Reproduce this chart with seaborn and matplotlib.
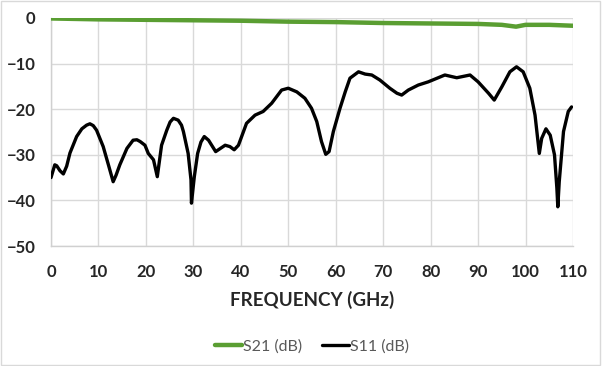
import numpy as np
import pandas as pd
import matplotlib
matplotlib.use('Agg')
import matplotlib.pyplot as plt
import seaborn as sns

# S11 trace (GHz, dB)
s11_freq = [0, 0.8, 1.2, 1.9, 2.6, 3.3, 4, 5.4, 6.5, 7.5, 8.2, 8.9, 9.6, 11, 12.1, 13.1,
            13.7, 14.5, 16, 17.3, 18.1, 18.8, 19.8, 20.5, 21.6, 22.4, 23.3, 24.4, 25.1,
            25.8, 26.8, 27.5, 27.9, 28.9, 29.5, 29.6, 30.2, 30.9, 31.6, 32.3, 33.2,
            34.7, 36.7, 37.7, 38.6, 39.5, 41.2, 43, 44.7, 46.5, 48.6, 50, 51.8, 53.5,
            54.9, 56, 57, 57.9, 58.6, 59.5, 60.9, 62, 63, 64.8, 66.2, 67.6, 69.3, 71.4,
            72.9, 73.9, 75.3, 77.4, 79.5, 81.6, 83, 85.5, 88.3, 90, 92.2, 93.4, 95,
            96.7, 98.1, 99.5, 100.9, 102, 102.9, 103.4, 104.3, 105.2, 106.1, 106.6,
            106.8, 107.1, 108, 109, 109.7]
s11_db = [-35, -32.2, -32.4, -33.5, -34.2, -32.5, -29.6, -26, -24.3, -23.5, -23.2,
          -23.6, -24.6, -28.2, -32.2, -35.9, -34.5, -32.2, -28.6, -26.8, -26.7, -27.1,
          -27.9, -29.7, -31.1, -34.8, -27.9, -24.6, -22.8, -22, -22.4, -23.5, -24.9,
          -29.7, -35.5, -40.6, -34.8, -29.7, -27.2, -26, -26.8, -29.3, -27.9, -28.2,
          -28.9, -27.9, -23.1, -21.3, -20.5, -18.7, -15.8, -15.4, -16.2, -17.6, -19.8,
          -22.7, -27.1, -29.9, -29.3, -24.9, -19.8, -16.2, -13.2, -11.8, -12.3, -12.5,
          -13.6, -15.4, -16.5, -16.9, -15.8, -14.7, -14, -13.1, -12.5, -13.1, -12.5,
          -14, -16.5, -18, -15.1, -11.8, -10.7, -11.8, -15.4, -21.3, -29.7, -26.4,
          -24.3, -25.7, -30, -37.3, -41.4, -35.9, -24.9, -20.5, -19.5]

# S21 trace
s21_freq = [0, 10, 20, 30, 40, 50, 60, 70, 80, 90, 95, 98, 100, 105, 110]
s21_db = [-0.1, -0.3, -0.4, -0.5, -0.6, -0.8, -0.9, -1.1, -1.2, -1.3, -1.5, -1.9,
          -1.5, -1.5, -1.7]

x_ticks = list(range(0, 111, 10))
y_ticks = list(range(-50, 1, 10))

sns.set_style('white')
plt.rcParams['font.family'] = ['Lato', 'DejaVu Sans']

fig = plt.figure(figsize=(6.02, 3.66), dpi=100)
ax = fig.add_axes([51 / 602, 1 - 246 / 366, (573 - 51) / 602, (246 - 18) / 366])

sns.lineplot(x=s21_freq, y=s21_db, ax=ax, color='#5a9e32', linewidth=3.2,
             label='S21 (dB)', zorder=3, solid_joinstyle='round')
sns.lineplot(x=s11_freq, y=s11_db, ax=ax, color='black', linewidth=2.4,
             label='S11 (dB)', zorder=4, solid_joinstyle='round')

ax.set_xlim(0, 110)
ax.set_ylim(-50, 0)
ax.set_xticks(x_ticks)
ax.set_yticks(y_ticks)
ax.grid(True, color='#d9d9d9', linewidth=1)
ax.set_axisbelow(True)
for side in ['top', 'right']:
    ax.spines[side].set_visible(False)
for side in ['left', 'bottom']:
    ax.spines[side].set_color('#d0d0d0')
    ax.spines[side].set_linewidth(1)
ax.tick_params(axis='x', length=0, labelsize=12, pad=13)
ax.tick_params(axis='y', length=0, labelsize=12, pad=11)
for lab in ax.get_xticklabels() + ax.get_yticklabels():
    lab.set_fontweight('bold')
ax.set_xlabel('FREQUENCY (GHz)', fontsize=13.5, fontweight='bold', labelpad=8)
ax.set_ylabel('')

ax.legend(loc='upper center', bbox_to_anchor=(0.5, -0.345), ncol=2, frameon=False,
          fontsize=11.5, labelcolor='#595959', handlelength=1.7, handletextpad=0.1,
          columnspacing=1.2)

# chart border
fig.patches.append(plt.Rectangle((0.002, 0.003), 0.995, 0.994, transform=fig.transFigure,
                                 fill=False, edgecolor='#d9d9d9', linewidth=1))

fig.savefig('out.png', dpi=100)
